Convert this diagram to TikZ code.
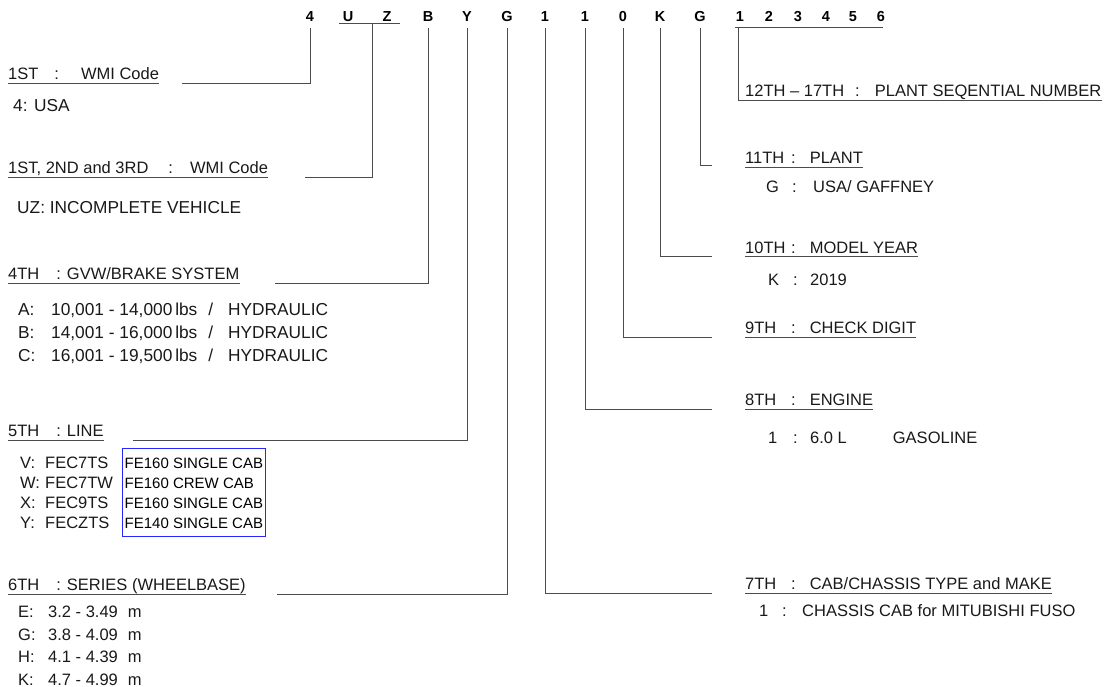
\documentclass[tikz,border=0pt]{standalone}
\usepackage{fontspec}
\setmainfont{Liberation Sans}
\usetikzlibrary{fit}

\newcommand\vinhead[2]{\makebox[46pt][l]{#1}:\hspace{14pt}#2}

\tikzset{
    vinchar/.style={font=\bfseries\fontsize{14.5}{16}\selectfont, text=black, anchor=base, inner xsep=0pt, inner ysep=6.5pt},
    link/.style={draw=black!70, line width=0.9pt},
    head/.style={anchor=base west, inner xsep=0pt, inner ysep=3.5pt, text depth=0pt,
        append after command={\pgfextra{\let\headnode=\tikzlastnode}
            (\headnode.south west) edge[link] (\headnode.south east)}},
    item/.style={anchor=base west, inner sep=0pt},
    wide/.style={item, font=\fontsize{17.3}{22}\selectfont},
    cab/.style={anchor=base west, inner sep=0pt, font=\fontsize{15}{18}\selectfont, text=black},
    cabframe/.style={draw=blue!85!white, line width=0.8pt, inner xsep=2.5pt, inner ysep=8.5pt},
}

\begin{document}
\begin{tikzpicture}[x=1pt, y=-1pt, font=\fontsize{16.5}{22}\selectfont, text=black!90]
    \useasboundingbox (0,0) rectangle (1107,687);

    % the code itself
    \foreach \ch/\x [count=\i] in {4/310, U/348, Z/387, B/428, Y/467, G/507, 1/545, 1/585, 0/623,
        K/660, G/700, 1/740, 2/769, 3/798, 4/826, 5/853, 6/881}
        \node[vinchar] (p\i) at (\x,21.5) {\ch};

    \coordinate (uzl) at (339,23.5);
    \coordinate (uzr) at (400,23.5);
    \coordinate (uzm) at (372,23.5);
    \draw[link] (uzl) -- (uzr);
    \coordinate (sql) at (735,27.5);
    \coordinate (sqr) at (883,27.5);
    \coordinate (sqm) at (738,27.5);
    \draw[link] (sql) -- (sqr);

    % left column
    \node[head] (h1) at (8,80) {1ST\hspace{16pt}:\hspace{22pt}WMI Code};
    \node[wide] (t1) at (13,112) {4: USA};

    \node[head] (h2) at (8,173.5) {1ST, 2ND and 3RD\hspace{20pt}:\hspace{17pt}WMI Code\hspace{10pt}};
    \node[wide] (t2) at (17,213) {UZ: INCOMPLETE VEHICLE};

    \node[head] (h4) at (8,279.5) {4TH\hspace{17pt}:\hspace{6pt}GVW/BRAKE SYSTEM};
    \node[wide] (t4a) at (18,315) {\makebox[33pt][l]{A:}10,001 - 14,000\,lbs\hspace{11pt}/\hspace{15pt}HYDRAULIC};
    \node[wide] (t4b) at (18,338) {\makebox[33pt][l]{B:}14,001 - 16,000\,lbs\hspace{11pt}/\hspace{15pt}HYDRAULIC};
    \node[wide] (t4c) at (18,361) {\makebox[33pt][l]{C:}16,001 - 19,500\,lbs\hspace{11pt}/\hspace{15pt}HYDRAULIC};

    \node[head] (h5) at (8,436.5) {5TH\hspace{17pt}:\hspace{6pt}LINE};
    \node[item] (t5v) at (20,468) {\makebox[25pt][l]{V:}FEC7TS};
    \node[item] (t5w) at (20,488) {\makebox[25pt][l]{W:}FEC7TW};
    \node[item] (t5x) at (20,508) {\makebox[25pt][l]{X:}FEC9TS};
    \node[item] (t5y) at (20,528) {\makebox[25pt][l]{Y:}FECZTS};
    \node[cab] (c5v) at (124.5,468) {FE160 SINGLE CAB};
    \node[cab] (c5w) at (124.5,488) {FE160 CREW CAB};
    \node[cab] (c5x) at (124.5,508) {FE160 SINGLE CAB};
    \node[cab] (c5y) at (124.5,528) {FE140 SINGLE CAB};
    \node[cabframe, fit=(c5v)(c5w)(c5x)(c5y)] (cabbox) {};

    \node[head] (h6) at (8,590.5) {6TH\hspace{17pt}:\hspace{6pt}SERIES (WHEELBASE)};
    \node[item] (t6e) at (18,617.5) {\makebox[30pt][l]{E:}3.2 - 3.49\hspace{10pt}m};
    \node[item] (t6g) at (18,640) {\makebox[30pt][l]{G:}3.8 - 4.09\hspace{10pt}m};
    \node[item] (t6h) at (18,662.5) {\makebox[30pt][l]{H:}4.1 - 4.39\hspace{10pt}m};
    \node[item] (t6k) at (18,685) {\makebox[30pt][l]{K:}4.7 - 4.99\hspace{10pt}m};

    % right column
    \node[head] (h12) at (745,97) {12TH -- 17TH\hspace{11pt}:\hspace{15pt}PLANT SEQENTIAL NUMBER};

    \node[head] (h11) at (745,163.5) {\vinhead{11TH}{PLANT}};
    \node[item] (t11) at (766,193) {\makebox[26pt][l]{G}\makebox[21pt][l]{:}USA/ GAFFNEY};

    \node[head] (h10) at (745,253) {\vinhead{10TH}{MODEL YEAR}};
    \node[item] (t10) at (768,285) {\makebox[25pt][l]{K}\makebox[17pt][l]{:}2019};

    \node[head] (h9) at (745,333.5) {\vinhead{9TH}{CHECK DIGIT}};

    \node[head] (h8) at (745,405.5) {\vinhead{8TH}{ENGINE}};
    \node[item] (t8) at (768,443.5) {\makebox[25pt][l]{1}\makebox[17pt][l]{:}6.0 L\hspace{46pt}GASOLINE};

    \node[head] (h7) at (745,589.5) {\vinhead{7TH}{CAB/CHASSIS TYPE and MAKE}};
    \node[item] (t7) at (759,616) {\makebox[23pt][l]{1}\makebox[20pt][l]{:}CHASSIS CAB for MITUBISHI FUSO};

    % leader lines
    \coordinate (e1) at (182,83.5);
    \coordinate (e2) at (305,177);
    \coordinate (e4) at (275,283);
    \coordinate (e5) at (133,440);
    \coordinate (e6) at (277,594);
    \coordinate (e7) at (712,593);
    \coordinate (e8) at (712,409);
    \coordinate (e9) at (712,337);
    \coordinate (e10) at (712,256.5);
    \coordinate (e11) at (712,165);

    \draw[link] (p1.south) |- (e1);
    \draw[link] (uzm) |- (e2);
    \draw[link] (p4.south) |- (e4);
    \draw[link] (p5.south) |- (e5);
    \draw[link] (p6.south) |- (e6);
    \draw[link] (p7.south) |- (e7);
    \draw[link] (p8.south) |- (e8);
    \draw[link] (p9.south) |- (e9);
    \draw[link] (p10.south) |- (e10);
    \draw[link] (p11.south) |- (e11);
    \draw[link] (sqm) |- (h12.south east);
\end{tikzpicture}
\end{document}
